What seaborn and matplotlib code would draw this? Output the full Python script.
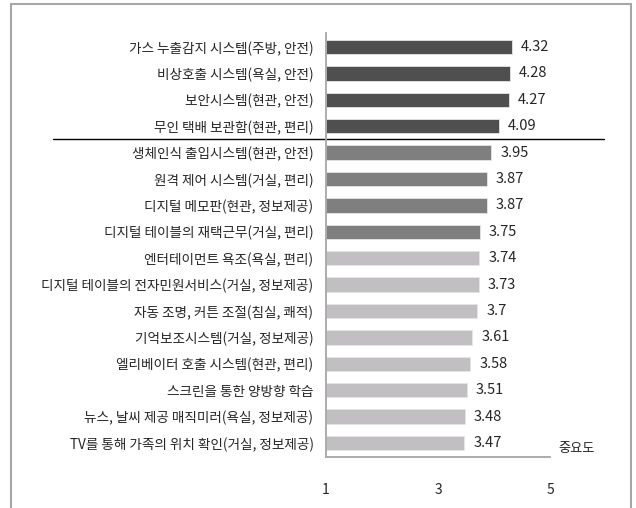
import matplotlib
matplotlib.use("Agg")
import matplotlib.pyplot as plt
from matplotlib.patches import Rectangle
import seaborn as sns
import pandas as pd

sns.set_style("white")
plt.rcParams['font.family'] = ['Noto Sans CJK KR', 'DejaVu Sans']

items = [
    "가스 누출감지 시스템(주방, 안전)",
    "비상호출 시스템(욕실, 안전)",
    "보안시스템(현관, 안전)",
    "무인 택배 보관함(현관, 편리)",
    "생체인식 출입시스템(현관, 안전)",
    "원격 제어 시스템(거실, 편리)",
    "디지털 메모판(현관, 정보제공)",
    "디지털 테이블의 재택근무(거실, 편리)",
    "엔터테이먼트 욕조(욕실, 편리)",
    "디지털 테이블의 전자민원서비스(거실, 정보제공)",
    "자동 조명, 커튼 조절(침실, 쾌적)",
    "기억보조시스템(거실, 정보제공)",
    "엘리베이터 호출 시스템(현관, 편리)",
    "스크린을 통한 양방향 학습",
    "뉴스, 날씨 제공 매직미러(욕실, 정보제공)",
    "TV를 통해 가족의 위치 확인(거실, 정보제공)",
]
scores = [4.32, 4.28, 4.27, 4.09, 3.95, 3.87, 3.87, 3.75,
          3.74, 3.73, 3.7, 3.61, 3.58, 3.51, 3.48, 3.47]
score_labels = ["4.32", "4.28", "4.27", "4.09", "3.95", "3.87", "3.87", "3.75",
                "3.74", "3.73", "3.7", "3.61", "3.58", "3.51", "3.48", "3.47"]
groups = ["상"] * 4 + ["중"] * 4 + ["하"] * 8
x_ticks = [1, 3, 5]
axis_title = "중요도"

group_colors = {"상": "#4f4f4f", "중": "#7f7f7f", "하": "#c1bfc2"}
bar_colors = {it: group_colors[g] for it, g in zip(items, groups)}

df = pd.DataFrame({"item": items, "score": scores})
text_color = "#262626"

fig = plt.figure(figsize=(6.36, 5.08), dpi=100)
ax = fig.add_axes([326 / 636, 51 / 508, 224 / 636, 424 / 508])

sns.barplot(data=df, x="score", y="item", hue="item", palette=bar_colors,
            legend=False, orient="h", width=0.55, ax=ax,
            edgecolor="#e6e6e6", linewidth=0.6)
# bars start from the axis origin at 1
for p in ax.patches:
    w = p.get_width()
    p.set_x(1)
    p.set_width(w - 1)

ax.set_xlim(1, 5)
ax.set_ylim(15.53, -0.53)
ax.set_xticks(x_ticks)
ax.set_xticklabels([str(t) for t in x_ticks], fontsize=10, color=text_color)
ax.tick_params(axis="x", length=0, pad=19)
ax.tick_params(axis="y", length=0, pad=9, labelsize=9.8, labelcolor=text_color)
ax.set_xlabel("")
ax.set_ylabel("")

for s in ["top", "right"]:
    ax.spines[s].set_visible(False)
for s in ["left", "bottom"]:
    ax.spines[s].set_color("#a6a6a6")
    ax.spines[s].set_linewidth(1.3)

for i, (v, lab) in enumerate(zip(scores, score_labels)):
    ax.text(v + 0.16, i, lab, va="center", ha="left", fontsize=10.5,
            color=text_color)

# divider between the top group and the rest
ax.plot([-1.219, 1.241], [3.5, 3.5], color="black", lw=1,
        transform=ax.get_yaxis_transform(), clip_on=False)

ax.text(1.12, 15.2, axis_title, transform=ax.get_yaxis_transform(),
        ha="center", va="center", fontsize=9.5, color=text_color)

fig.add_artist(Rectangle((11 / 636, -0.02), 620 / 636, 1.0 - 4 / 508 + 0.02,
                         transform=fig.transFigure, fill=False,
                         edgecolor="#a6a6a6", linewidth=1.5))

fig.savefig("out.png", dpi=100)
